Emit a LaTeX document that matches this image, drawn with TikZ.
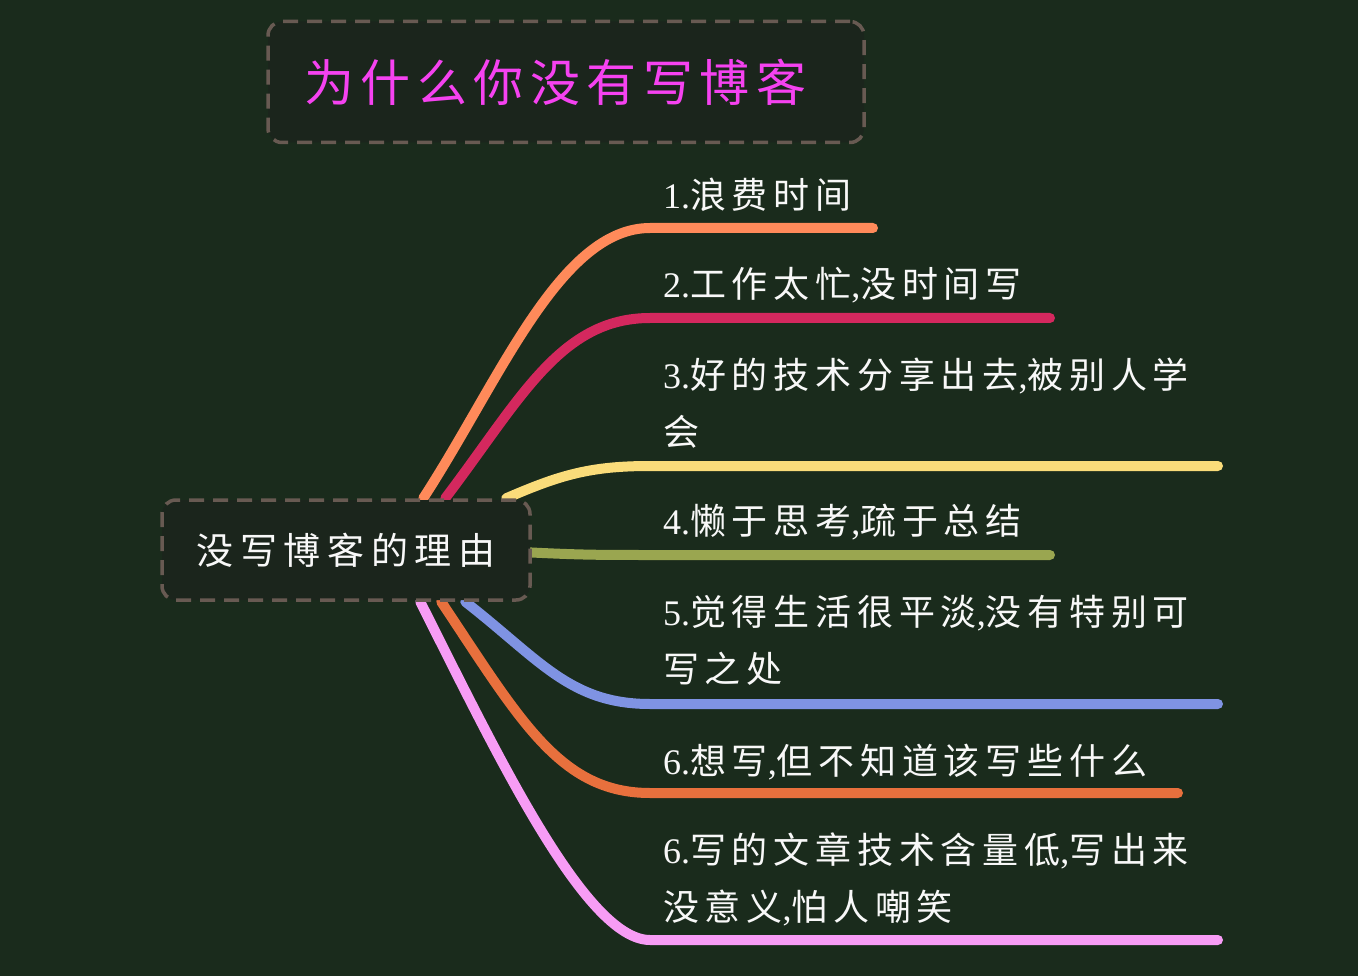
\documentclass[tikz,border=0pt]{standalone}
\usepackage{fontspec}
\setmainfont{Liberation Serif}
\newfontfamily\cjkL{Noto Sans CJK SC}[LetterSpace=16]
\newfontfamily\cjkT{Noto Sans CJK SC}[LetterSpace=13]
\newfontfamily\cjkC{Noto Sans CJK SC}[LetterSpace=18]
\newcommand\latn[1]{{\rmfamily #1}}
\usetikzlibrary{calc}
\pgfdeclarelayer{bg}
\pgfsetlayers{bg,main}
\definecolor{bgc}{RGB}{26,43,28}
\definecolor{boxfill}{RGB}{27,37,28}
\definecolor{boxline}{RGB}{104,90,82}
\definecolor{titlec}{RGB}{245,66,240}
\definecolor{txt}{RGB}{248,248,248}
\definecolor{b1}{RGB}{255,138,90}
\definecolor{b2}{RGB}{212,40,94}
\definecolor{b3}{RGB}{250,220,122}
\definecolor{b4}{RGB}{154,166,80}
\definecolor{b5}{RGB}{127,147,227}
\definecolor{b6}{RGB}{232,112,61}
\definecolor{b7}{RGB}{247,156,245}
\begin{document}
\begin{tikzpicture}[x=1pt,y=-1pt,
  dbox/.style={draw=boxline, fill=boxfill, line width=3.5pt, dash pattern=on 15pt off 9pt, rounded corners=14pt, inner sep=0pt},
  branch/.style={line width=10pt, line cap=round},
  lbl/.style={anchor=west, text=txt, font=\fontsize{36}{57}\selectfont\cjkL, align=left, inner sep=0pt}]
\useasboundingbox (0,0) rectangle (1358,976);
\begin{pgfonlayer}{bg}
\fill[bgc] (0,0) rectangle (1358,976);
\end{pgfonlayer}

\node[dbox, minimum width=596pt, minimum height=121pt, text=titlec, font=\fontsize{50}{50}\selectfont\cjkT] (t) at (566,82) {为什么你没有写博客\hspace*{22pt}};
\node[dbox, minimum width=368pt, minimum height=100pt, text=txt, font=\fontsize{37}{37}\selectfont\cjkC] (c) at (346,550) {没写博客的理由};

\node[lbl] (l1) at (663,195) {\latn{1.}浪费时间};
\node[lbl] (l2) at (663,285) {\latn{2.}工作太忙\latn{,}没时间写};
\node[lbl] (l3) at (663,403) {\latn{3.}好的技术分享出去\latn{,}被别人学\\会};
\node[lbl] (l4) at (663,522) {\latn{4.}懒于思考\latn{,}疏于总结};
\node[lbl] (l5) at (663,640) {\latn{5.}觉得生活很平淡\latn{,}没有特别可\\写之处};
\node[lbl] (l6) at (663,762) {\latn{6.}想写\latn{,}但不知道该写些什么};
\node[lbl] (l7) at (663,879) {\latn{6.}写的文章技术含量低\latn{,}写出来\\没意义\latn{,}怕人嘲笑};

\coordinate (e1) at (873,228);
\coordinate (e2) at (1050,318);
\coordinate (e3) at (1218,466);
\coordinate (e4) at (1050,555);
\coordinate (e5) at (1218,704);
\coordinate (e6) at (1178,793);
\coordinate (e7) at (1218,940);

\begin{pgfonlayer}{bg}
\draw[branch,b1] ($(c.north west)+(263,0)$) .. controls (500,380) and (560,228) .. (650,228) -- (e1);
\draw[branch,b2] ($(c.north west)+(285,0)$) .. controls (520,400) and (560,318) .. (650,318) -- (e2);
\draw[branch,b3] ($(c.north west)+(346,0)$) .. controls (560,475) and (590,466) .. (650,466) -- (e3);
\draw[branch,b4] ($(c.east)+(-10,2)$) .. controls (580,555) and (600,555) .. (650,555) -- (e4);
\draw[branch,b5] ($(c.south west)+(305,0)$) .. controls (540,660) and (570,704) .. (650,704) -- (e5);
\draw[branch,b6] ($(c.south west)+(281,0)$) .. controls (520,720) and (560,793) .. (650,793) -- (e6);
\draw[branch,b7] ($(c.south west)+(260,0)$) .. controls (495,750) and (585,940) .. (650,940) -- (e7);
\end{pgfonlayer}
\end{tikzpicture}
\end{document}
